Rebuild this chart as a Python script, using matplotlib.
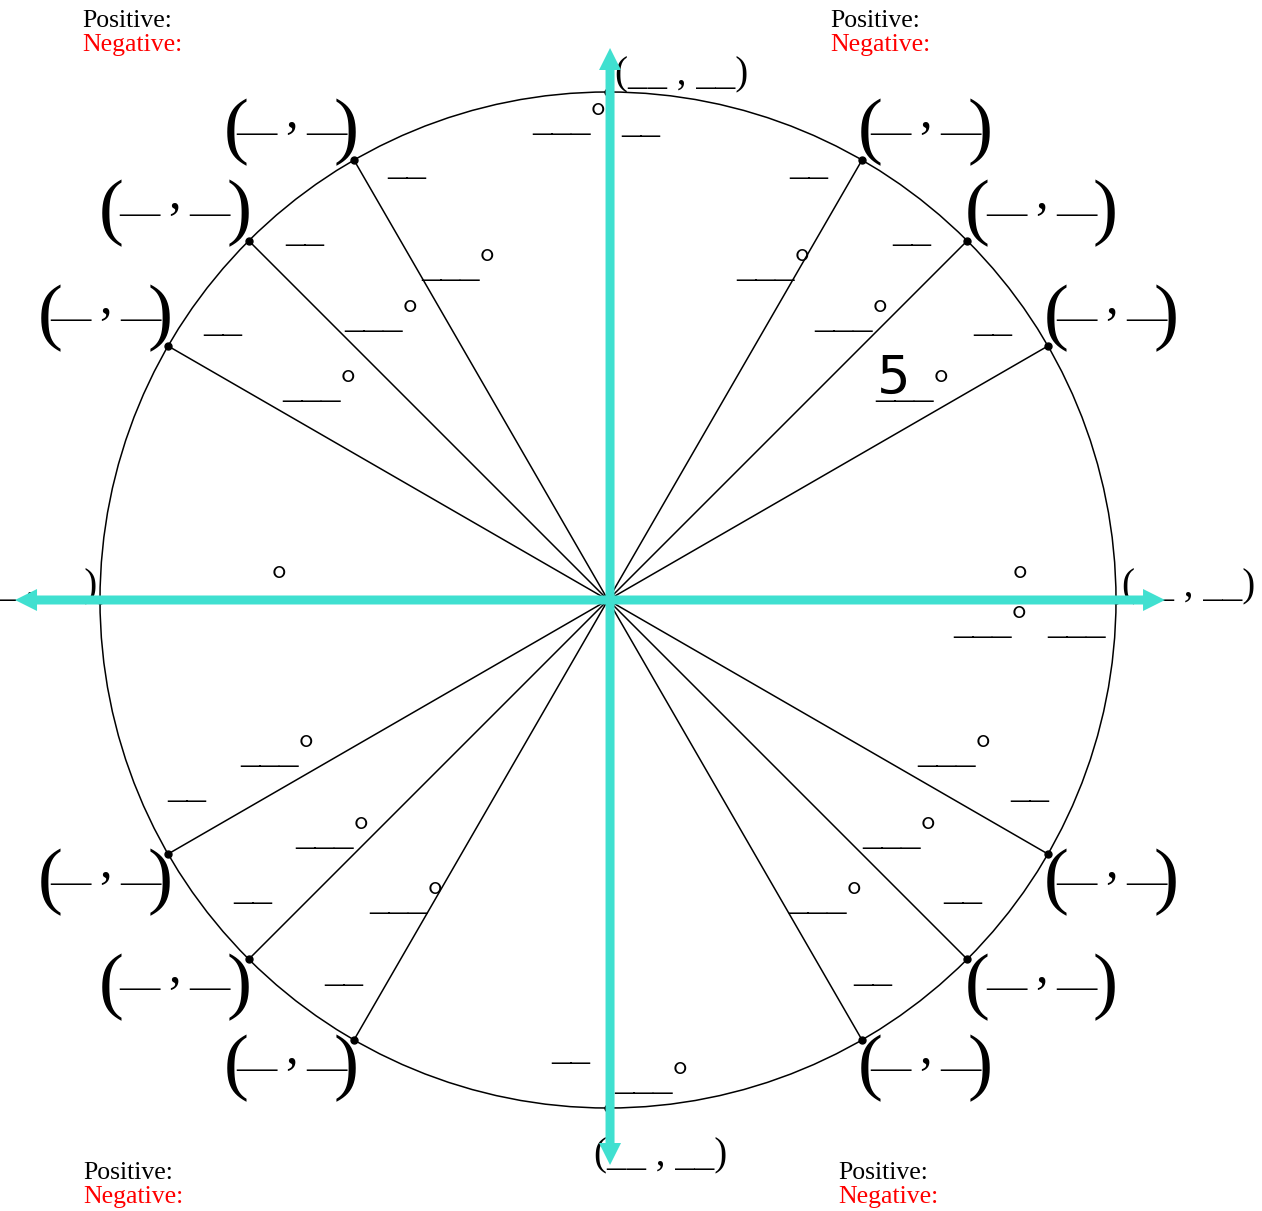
import numpy as np
import matplotlib.pyplot as plt
from matplotlib.patches import Circle
from matplotlib.transforms import offset_copy

plt.rcParams['font.family'] = ['Liberation Serif', 'DejaVu Serif']

# special angles of the unit-circle worksheet (degrees)
spoke_angles = [30, 45, 60, 120, 135, 150, 210, 225, 240, 300, 315, 330]
axis_angles = [0, 90, 180, 270]

# blank texts to fill in
big_pair = ['(', '\u2014', ',', '\u2014', ')']
small_pair = '(__ , __)'
degree_blank = '___\u00b0'
radian_blank = '__'
corner_lines = ['Positive:', 'Negative:']
corner_colors = ['black', 'red']
scribble = '5'

W, H = 1262, 1211
CX, CY = 608, 600      # circle centre in pixels
R = 508.0              # radius in pixels
AXIS_COLOR = '#40E0D0'

fig = plt.figure(figsize=(W / 100, H / 100), dpi=100)
ax = fig.add_axes([0, 0, 1, 1])
ax.set_xlim(-CX / R, (W - CX) / R)
ax.set_ylim(-(H - CY) / R, CY / R)
ax.axis('off')


def shift(dx, dy):
    # pixel offset, dy positive means down like in the picture
    return offset_copy(ax.transData, fig=fig, x=dx, y=-dy, units='dots')


def polar(r_px, ang):
    t = np.radians(ang)
    return r_px / R * np.cos(t), r_px / R * np.sin(t)


# circle, spokes and dots
ax.add_patch(Circle((0, 0), 1, fill=False, lw=1.1, color='black', zorder=2))
for a in spoke_angles:
    t = np.radians(a)
    ax.plot([0, np.cos(t)], [0, np.sin(t)], color='black', lw=1.1, zorder=2)
all_t = np.radians(spoke_angles + axis_angles)
ax.plot(np.cos(all_t), np.sin(all_t), 'o', color='black', ms=5, zorder=2)

# big "( - , - )" blanks next to each spoke point
for a in spoke_angles:
    t = np.radians(a)
    x, y = np.cos(t), np.sin(t)
    sx, sy = np.sign(np.cos(t)), np.sign(np.sin(t))
    diag = a % 90 == 45
    off = 74 if diag else 63
    half = 64 if diag else 55
    cdx, cdy = sx * off, -sy * 28
    pieces = [(-half, 18, 54), (-35, 11, 29), (0, -5, 36),
              (35, 11, 29), (half, 18, 54)]
    for s, (pdx, pdy, fs) in zip(big_pair, pieces):
        ax.text(x, y, s, fontsize=fs, ha='center', va='baseline',
                transform=shift(cdx + pdx, cdy + pdy), zorder=3)

# small "(__ , __)" blanks at the axis points
axis_label_off = [(73, -4), (74, -8), (-69, -4), (53, 57)]
for a, (dx, dy) in zip(axis_angles, axis_label_off):
    t = np.radians(a)
    ax.text(np.cos(t), np.sin(t), small_pair, fontsize=28, ha='center',
            va='baseline', transform=shift(dx, dy), zorder=3)


def degree_at(r_px, ang):
    x, y = polar(r_px, ang)
    ax.text(x, y, degree_blank, fontsize=28, ha='left', va='baseline',
            transform=shift(-29, -4), zorder=3)


def radian_at(r_px, ang, s=radian_blank):
    x, y = polar(r_px, ang)
    ax.text(x, y, s, fontsize=28, ha='center', va='baseline',
            transform=shift(0, -4), zorder=3)


for a in spoke_angles:
    t = np.radians(a)
    sx = np.sign(np.cos(t))
    r_deg = 357 if np.sin(t) > 0 else 377
    degree_at(r_deg, a + sx * 3.8)
    radian_at(467, a + sx * 4.5)

# blanks along the axes
degree_at(375, 0.5)
degree_at(376, -5.6)
radian_at(470, -4.5, '___')
degree_at(468, 95.7)
radian_at(465, 86)
degree_at(366, 179.5)
radian_at(464, 265.4)
degree_at(494, 274.1)

# hand-written note
x5, y5 = polar(361, 37.7)
ax.text(x5, y5, scribble, fontsize=38, family='DejaVu Sans', ha='center',
        va='center', color='black', zorder=3)

# turquoise axes with arrow heads
arrow_len = [555, 552, 595, 565]
for a, L in zip(axis_angles, arrow_len):
    t = np.radians(a)
    ax.arrow(0.004, 0, L / R * np.cos(t), L / R * np.sin(t),
             width=9 / R, head_width=22 / R, head_length=22 / R,
             length_includes_head=True, color=AXIS_COLOR, lw=0, zorder=4)

# quadrant corner notes
corner_x = [82, 830, 83, 838]
corner_y = [27, 27, 1179, 1179]
for cx, cy in zip(corner_x, corner_y):
    for i, (s, c) in enumerate(zip(corner_lines, corner_colors)):
        fig.text(cx / W, 1 - (cy + 24 * i) / H, s, fontsize=18.5,
                 color=c, ha='left', va='baseline')

fig.savefig('out.png', dpi=100)
